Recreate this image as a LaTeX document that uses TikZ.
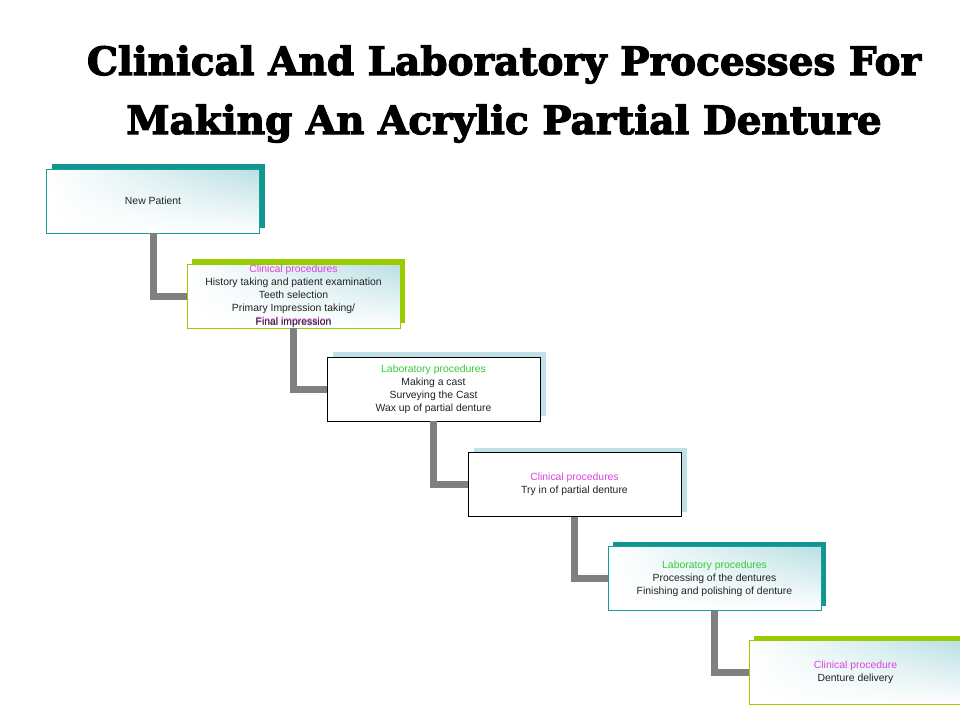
\documentclass[tikz,border=0pt]{standalone}
\usepackage{fontspec}
\setmainfont{Liberation Sans}
\newfontfamily\titlefont{DejaVu Serif}[FakeBold=3]
\usetikzlibrary{shadows,shadings}
\definecolor{tealb}{HTML}{16A09A}
\definecolor{tealsh}{HTML}{12968F}
\definecolor{greenb}{HTML}{99CC00}
\definecolor{lblue}{HTML}{BFE0E6}
\definecolor{gradc}{HTML}{B9DFE3}
\definecolor{txt}{HTML}{222222}
\definecolor{pinkc}{HTML}{E040E0}
\definecolor{labg}{HTML}{33CC33}
\definecolor{conn}{HTML}{808080}
\begin{document}
\begin{tikzpicture}[x=1pt,y=-1pt,
  box/.style={minimum width=213pt, minimum height=64pt, inner sep=0pt, align=center,
    font=\fontsize{10.4}{13}\selectfont, text=txt, line width=0.8pt},
  gradfill/.style={upper right=gradc, upper left=white, lower left=white, lower right=white},
  tealbox/.style={box, draw=tealb, gradfill,
    general shadow={fill=tealsh, shadow xshift=5pt, shadow yshift=5pt}},
  greenbox/.style={box, draw=greenb, gradfill,
    general shadow={fill=greenb, shadow xshift=5pt, shadow yshift=5pt}},
  plainbox/.style={box, draw=black, fill=white,
    general shadow={fill=lblue, shadow xshift=6pt, shadow yshift=5pt}},
  link/.style={draw=conn, line width=7pt},
  titletext/.style={font=\titlefont\bfseries\fontsize{39}{41}\selectfont, anchor=base}
]
\useasboundingbox (0,0) rectangle (960,720);
\fill[white] (0,0) rectangle (960,720);

\node[titletext] (t1) at (504,75) {Clinical And Laboratory Processes For};
\node[titletext] (t2) at (504,134) {Making An Acrylic Partial Denture};

\node[tealbox] (b1) at (153,201) {New Patient};
\node[greenbox] (b2) at (293.5,296) {{\color{pinkc}Clinical procedures}\\History taking and patient examination\\Teeth selection\\Primary Impression taking/\\\makebox[0pt]{\color{pinkc}Final impression}\makebox[0pt]{\raisebox{-0.8pt}{\color{txt}Final impression}}};
\node[plainbox] (b3) at (433.5,389) {{\color{labg}Laboratory procedures}\\Making a cast\\Surveying the Cast\\Wax up of partial denture};
\node[plainbox] (b4) at (574.5,484.5) {{\color{pinkc}Clinical procedures}\\Try in of partial denture};
\node[tealbox] (b5) at (714.5,578.5) {{\color{labg}Laboratory procedures}\\Processing of the dentures\\Finishing and polishing of denture};
\node[greenbox] (b6) at (855.5,672.5) {{\color{pinkc}Clinical procedure}\\Denture delivery};

\draw[link] (b1.south) |- (b2.west);
\draw[link] (b2.south) |- (b3.west);
\draw[link] (b3.south) |- (b4.west);
\draw[link] (b4.south) |- (b5.west);
\draw[link] (b5.south) |- (b6.west);
\end{tikzpicture}
\end{document}
